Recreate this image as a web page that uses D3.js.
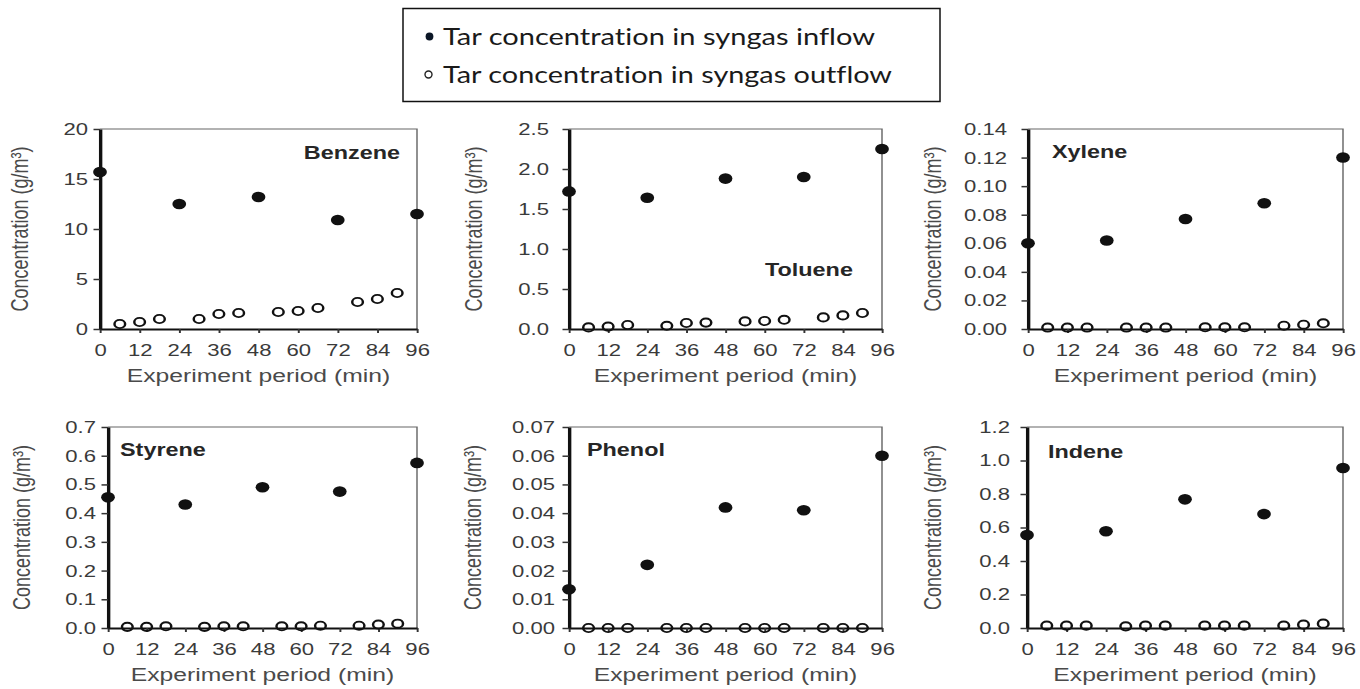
<!DOCTYPE html>
<html>
<head>
<meta charset="utf-8">
<script src="https://cdn.jsdelivr.net/npm/d3@7"></script>
<style>
  html, body { margin: 0; padding: 0; background: #fff; }
  svg { display: block; }
  .legend text { font-variant-ligatures: none; font-feature-settings: "liga" 0, "clig" 0; }
</style>
</head>
<body>
<svg id="chart" width="1360" height="689"></svg>
<script>
// Sampling times (min)
const timesIn  = [0, 24, 48, 72, 96];
const timesOut = [6, 12, 18, 30, 36, 42, 54, 60, 66, 78, 84, 90];
const xTickLabels = ["0", "12", "24", "36", "48", "60", "72", "84", "96"];

// Compounds, one panel each
const compounds = ["Benzene", "Toluene", "Xylene", "Styrene", "Phenol", "Indene"];

// Tar concentration in syngas inflow (g/m3)
const benzeneIn = [15.7, 12.5, 13.2, 10.9, 11.5];
const tolueneIn = [1.72, 1.64, 1.88, 1.90, 2.25];
const xyleneIn  = [0.060, 0.062, 0.077, 0.088, 0.120];
const styreneIn = [0.455, 0.43, 0.49, 0.475, 0.575];
const phenolIn  = [0.0135, 0.022, 0.042, 0.041, 0.060];
const indeneIn  = [0.555, 0.578, 0.768, 0.68, 0.955];

// Tar concentration in syngas outflow (g/m3)
const benzeneOut = [0.5, 0.7, 1.0, 1.0, 1.5, 1.6, 1.7, 1.8, 2.1, 2.7, 3.0, 3.6];
const tolueneOut = [0.02, 0.03, 0.05, 0.04, 0.075, 0.08, 0.095, 0.10, 0.115, 0.145, 0.17, 0.20];
const xyleneOut  = [0.001, 0.001, 0.001, 0.001, 0.001, 0.001, 0.0012, 0.0012, 0.0012, 0.0023, 0.003, 0.004];
const styreneOut = [0.004, 0.004, 0.006, 0.004, 0.006, 0.006, 0.006, 0.006, 0.008, 0.008, 0.012, 0.015];
const phenolOut  = [0, 0, 0, 0, 0, 0, 0, 0, 0, 0, 0, 0];
const indeneOut  = [0.014, 0.014, 0.014, 0.01, 0.014, 0.014, 0.014, 0.014, 0.014, 0.014, 0.02, 0.026];

// Y tick labels per panel
const benzeneTicks = ["0", "5", "10", "15", "20"];
const tolueneTicks = ["0.0", "0.5", "1.0", "1.5", "2.0", "2.5"];
const xyleneTicks  = ["0.00", "0.02", "0.04", "0.06", "0.08", "0.10", "0.12", "0.14"];
const styreneTicks = ["0.0", "0.1", "0.2", "0.3", "0.4", "0.5", "0.6", "0.7"];
const phenolTicks  = ["0.00", "0.01", "0.02", "0.03", "0.04", "0.05", "0.06", "0.07"];
const indeneTicks  = ["0.0", "0.2", "0.4", "0.6", "0.8", "1.0", "1.2"];

const inflow  = [benzeneIn, tolueneIn, xyleneIn, styreneIn, phenolIn, indeneIn];
const outflow = [benzeneOut, tolueneOut, xyleneOut, styreneOut, phenolOut, indeneOut];
const yTicks  = [benzeneTicks, tolueneTicks, xyleneTicks, styreneTicks, phenolTicks, indeneTicks];

// Legend entries
const legendLabels = ["Tar concentration in syngas inflow", "Tar concentration in syngas outflow"];

// ---- layout (screen pixels) ----
const S = 1.3; // the figure is drawn horizontally stretched
const frames = [
  { left: 100,  right: 417,  top: 129, bottom: 329, gap: 12, titleX: 20,  nameX: 400,  nameY: 153, anchor: "end" },
  { left: 569,  right: 882,  top: 129, bottom: 329, gap: 20, titleX: 474, nameX: 765,  nameY: 270, anchor: "start" },
  { left: 1028, right: 1343, top: 129, bottom: 329, gap: 21, titleX: 933, nameX: 1052, nameY: 152, anchor: "start" },
  { left: 108,  right: 417,  top: 427, bottom: 628, gap: 12, titleX: 22,  nameX: 120,  nameY: 450, anchor: "start" },
  { left: 569,  right: 882,  top: 427, bottom: 628, gap: 14, titleX: 473, nameX: 587,  nameY: 450, anchor: "start" },
  { left: 1027, right: 1343, top: 427, bottom: 628, gap: 17, titleX: 933, nameX: 1048, nameY: 452, anchor: "start" }
];
const legendWidths = [432, 449];

const FONT = "'Liberation Sans', Arial, Helvetica, sans-serif";
const svg = d3.select("#chart");
svg.append("rect").attr("width", 1360).attr("height", 689).attr("fill", "#fff");

const stage = svg.append("g").attr("transform", `scale(${S},1)`);

compounds.forEach((name, i) => {
  const f = frames[i];
  const tickVals = yTicks[i].map(Number);
  const x = d3.scaleLinear().domain([0, 96]).range([f.left / S, f.right / S]);
  const y = d3.scaleLinear().domain([0, d3.max(tickVals)]).range([f.bottom, f.top]);
  const g = stage.append("g").attr("class", "panel");

  // thin top/right frame
  g.append("path")
    .attr("d", `M${x(0)},${f.top}H${x(96)}V${f.bottom}`)
    .attr("fill", "none").attr("stroke", "#666").attr("stroke-width", 1.1);

  // x axis
  const xa = g.append("g")
    .attr("transform", `translate(0,${f.bottom})`)
    .call(d3.axisBottom(x)
      .tickValues(xTickLabels.map(Number))
      .tickFormat((d, j) => xTickLabels[j])
      .tickSize(4).tickSizeOuter(0).tickPadding(11));
  xa.attr("font-family", FONT).attr("font-size", 17);
  xa.select(".domain").attr("stroke", "#111").attr("stroke-width", 2.2);
  xa.selectAll(".tick line").attr("stroke", "#333").attr("stroke-width", 1.5);
  xa.selectAll(".tick text").attr("fill", "#3a3a3a");

  // y axis
  const ya = g.append("g")
    .attr("transform", `translate(${x(0)},0)`)
    .call(d3.axisLeft(y)
      .tickValues(tickVals)
      .tickFormat((d, j) => yTicks[i][j])
      .tickSize(5).tickSizeOuter(0).tickPadding(f.gap / S - 5));
  ya.attr("font-family", FONT).attr("font-size", 17);
  ya.select(".domain").attr("stroke", "#111").attr("stroke-width", 2.6);
  ya.selectAll(".tick line").attr("stroke", "#333").attr("stroke-width", 1.5);
  ya.selectAll(".tick text").attr("fill", "#3a3a3a");

  // outflow: open circles
  g.selectAll("circle.out")
    .data(timesOut.map((t, j) => [t, outflow[i][j]]))
    .join("circle").attr("class", "out")
    .attr("cx", d => x(d[0])).attr("cy", d => y(d[1]))
    .attr("r", 4.1).attr("fill", "none")
    .attr("stroke", "#111").attr("stroke-width", 1.9);

  // inflow: filled circles
  g.selectAll("circle.in")
    .data(timesIn.map((t, j) => [t, inflow[i][j]]))
    .join("circle").attr("class", "in")
    .attr("cx", d => x(d[0])).attr("cy", d => y(d[1]))
    .attr("r", 5.3).attr("fill", "#111");

  // axis titles
  g.append("text")
    .attr("x", (x(0) + x(96)) / 2).attr("y", f.bottom + 53)
    .attr("text-anchor", "middle")
    .attr("font-family", FONT).attr("font-size", 19).attr("fill", "#4a4a4a")
    .text("Experiment period (min)");

  g.append("text")
    .attr("transform", `translate(${f.titleX / S},${(f.top + f.bottom) / 2}) rotate(-90)`)
    .attr("dy", "0.35em")
    .attr("text-anchor", "middle")
    .attr("font-family", FONT).attr("font-size", 18).attr("fill", "#4a4a4a")
    .text("Concentration (g/m³)");

  // compound name
  g.append("text")
    .attr("x", f.nameX / S).attr("y", f.nameY).attr("dy", "0.35em")
    .attr("text-anchor", f.anchor)
    .attr("font-family", FONT).attr("font-size", 18).attr("font-weight", "bold")
    .attr("fill", "#262626")
    .text(name);
});

// ---- legend ----
const legend = svg.append("g").attr("class", "legend");
legend.append("rect")
  .attr("x", 403).attr("y", 8.5).attr("width", 537).attr("height", 93)
  .attr("fill", "#fff").attr("stroke", "#111").attr("stroke-width", 1.5);

const legendRows = legend.selectAll("g.row")
  .data(legendLabels)
  .join("g").attr("class", "row")
  .attr("transform", (d, j) => `translate(0,${36.5 + j * 38})`);

legendRows.append("circle")
  .attr("cx", (d, j) => j === 0 ? 429.5 : 428.5).attr("cy", 0)
  .attr("r", (d, j) => j === 0 ? 3.9 : 3.5)
  .attr("fill", (d, j) => j === 0 ? "#0b1626" : "none")
  .attr("stroke", (d, j) => j === 0 ? "none" : "#222")
  .attr("stroke-width", 1.4);

legendRows.append("text")
  .attr("x", 443).attr("y", 8.3)
  .attr("font-family", "Lato, 'Open Sans', sans-serif")
  .attr("font-size", 24).attr("fill", "#1a1a1a")
  .attr("textLength", (d, j) => legendWidths[j])
  .attr("lengthAdjust", "spacingAndGlyphs")
  .text(d => d);
</script>
</body>
</html>
